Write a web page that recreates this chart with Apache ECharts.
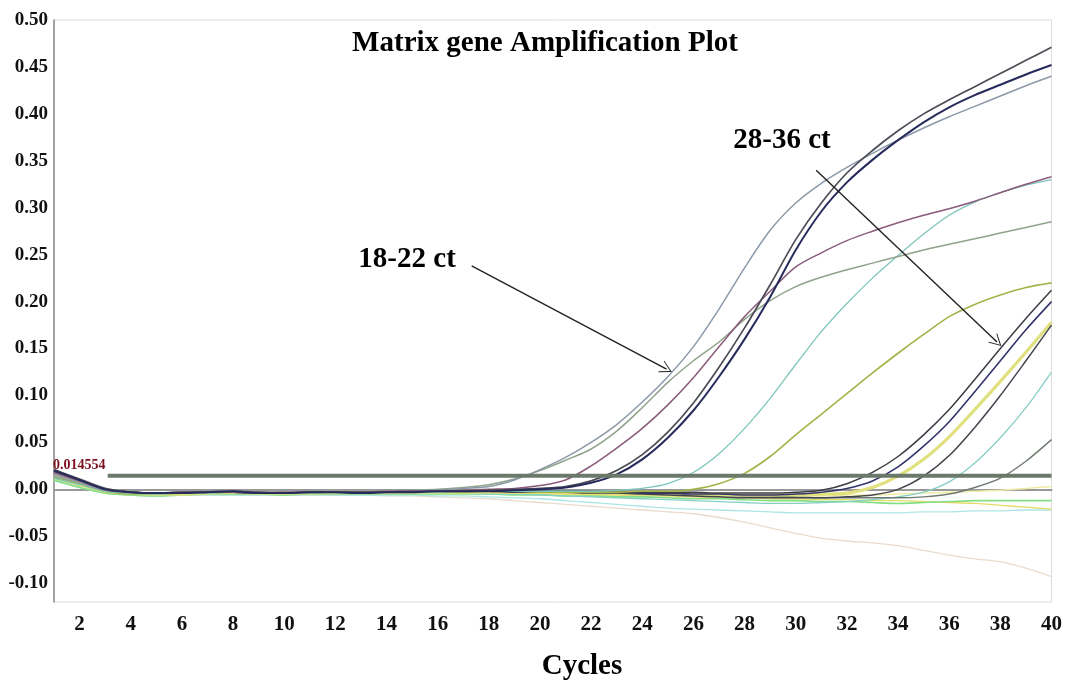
<!DOCTYPE html>
<html>
<head>
<meta charset="utf-8">
<script src="https://cdn.jsdelivr.net/npm/echarts@6/dist/echarts.min.js"></script>
<style>
html,body{margin:0;padding:0;background:#fff;}
#chart{width:1065px;height:683px;}
</style>
</head>
<body>
<div id="chart"></div>
<script>
// ---- DATA ----
const cycles = [1,2,3,4,5,6,7,8,9,10,11,12,13,14,15,16,17,18,19,20,21,22,23,24,25,26,27,28,29,30,31,32,33,34,35,36,37,38,39,40];

const beigeNeg = [0.010,0.002,-0.004,-0.006,-0.007,-0.006,-0.006,-0.006,-0.006,-0.006,-0.006,-0.006,-0.006,-0.007,-0.007,-0.008,-0.009,-0.010,-0.012,-0.014,-0.016,-0.018,-0.020,-0.022,-0.024,-0.026,-0.030,-0.035,-0.041,-0.047,-0.052,-0.055,-0.057,-0.060,-0.065,-0.070,-0.074,-0.077,-0.084,-0.093];
const cyanNeg = [0.009,0.002,-0.004,-0.006,-0.007,-0.006,-0.006,-0.006,-0.006,-0.006,-0.006,-0.006,-0.006,-0.006,-0.006,-0.007,-0.007,-0.008,-0.009,-0.010,-0.012,-0.014,-0.016,-0.018,-0.020,-0.021,-0.022,-0.023,-0.024,-0.025,-0.025,-0.025,-0.025,-0.025,-0.024,-0.024,-0.023,-0.023,-0.022,-0.022];
const lightYellowNeg = [0.011,0.004,-0.002,-0.004,-0.005,-0.005,-0.004,-0.004,-0.004,-0.004,-0.004,-0.004,-0.004,-0.004,-0.004,-0.004,-0.004,-0.004,-0.005,-0.005,-0.005,-0.006,-0.006,-0.006,-0.007,-0.007,-0.007,-0.007,-0.007,-0.007,-0.007,-0.006,-0.006,-0.005,-0.004,-0.003,-0.002,-0.001,0.001,0.003];
const yellowNeg = [0.012,0.004,-0.003,-0.005,-0.006,-0.005,-0.004,-0.004,-0.004,-0.005,-0.004,-0.004,-0.004,-0.004,-0.004,-0.004,-0.004,-0.004,-0.004,-0.005,-0.005,-0.006,-0.006,-0.007,-0.007,-0.008,-0.009,-0.009,-0.010,-0.010,-0.011,-0.011,-0.012,-0.012,-0.013,-0.014,-0.015,-0.017,-0.019,-0.021];
const greenNeg = [0.010,0.002,-0.004,-0.006,-0.007,-0.006,-0.005,-0.005,-0.005,-0.006,-0.005,-0.005,-0.005,-0.005,-0.005,-0.005,-0.005,-0.005,-0.006,-0.006,-0.007,-0.007,-0.008,-0.008,-0.009,-0.010,-0.010,-0.011,-0.012,-0.012,-0.013,-0.013,-0.014,-0.015,-0.014,-0.013,-0.012,-0.012,-0.012,-0.012];

const earlyGrayBlue = [0.016,0.008,-0.001,-0.003,-0.004,-0.003,-0.003,-0.002,-0.003,-0.003,-0.003,-0.002,-0.002,-0.002,-0.001,-0.001,0.001,0.003,0.010,0.021,0.034,0.050,0.069,0.093,0.120,0.152,0.192,0.236,0.276,0.305,0.326,0.343,0.358,0.372,0.385,0.397,0.408,0.419,0.430,0.440];
const earlyGreenGray = [0.014,0.007,-0.001,-0.003,-0.004,-0.004,-0.003,-0.003,-0.003,-0.003,-0.002,-0.002,-0.002,-0.002,-0.001,0.000,0.002,0.005,0.011,0.020,0.031,0.043,0.062,0.087,0.114,0.137,0.157,0.181,0.201,0.216,0.226,0.234,0.241,0.248,0.255,0.261,0.267,0.273,0.279,0.285];
const earlyMauve = [0.018,0.009,0.000,-0.003,-0.004,-0.003,-0.003,-0.003,-0.004,-0.003,-0.003,-0.003,-0.003,-0.002,-0.002,-0.002,-0.001,0.000,0.001,0.004,0.010,0.025,0.044,0.065,0.090,0.119,0.152,0.184,0.211,0.237,0.252,0.265,0.275,0.284,0.292,0.299,0.307,0.316,0.325,0.333];
const earlyNavy = [0.020,0.010,0.000,-0.003,-0.004,-0.004,-0.003,-0.002,-0.004,-0.004,-0.003,-0.003,-0.004,-0.003,-0.003,-0.002,-0.002,-0.002,-0.001,0.000,0.002,0.007,0.016,0.032,0.055,0.084,0.120,0.160,0.205,0.255,0.296,0.327,0.351,0.372,0.391,0.407,0.420,0.431,0.442,0.452];
const earlyDark = [0.021,0.011,0.001,-0.003,-0.004,-0.003,-0.003,-0.002,-0.003,-0.004,-0.003,-0.003,-0.003,-0.003,-0.002,-0.002,-0.002,-0.001,0.000,0.001,0.003,0.009,0.020,0.037,0.061,0.092,0.130,0.172,0.218,0.266,0.305,0.337,0.361,0.382,0.400,0.415,0.429,0.443,0.457,0.471];

const midTeal = [0.012,0.005,-0.002,-0.004,-0.005,-0.004,-0.004,-0.003,-0.004,-0.004,-0.004,-0.003,-0.003,-0.003,-0.003,-0.003,-0.002,-0.002,-0.002,-0.002,-0.002,-0.002,-0.001,0.001,0.006,0.018,0.038,0.065,0.097,0.133,0.168,0.198,0.225,0.249,0.272,0.292,0.306,0.316,0.324,0.330];
const midOlive = [0.013,0.006,-0.002,-0.005,-0.005,-0.004,-0.004,-0.003,-0.003,-0.004,-0.004,-0.003,-0.003,-0.003,-0.003,-0.003,-0.003,-0.002,-0.002,-0.003,-0.003,-0.003,-0.003,-0.002,-0.002,0.000,0.006,0.017,0.035,0.058,0.080,0.102,0.124,0.145,0.165,0.184,0.197,0.207,0.215,0.220];

const lateDark1 = [0.019,0.009,0.000,-0.003,-0.004,-0.004,-0.003,-0.003,-0.004,-0.004,-0.003,-0.003,-0.003,-0.003,-0.003,-0.002,-0.002,-0.002,-0.002,-0.002,-0.002,-0.002,-0.003,-0.003,-0.003,-0.003,-0.004,-0.004,-0.004,-0.003,-0.001,0.006,0.018,0.035,0.058,0.085,0.117,0.150,0.182,0.212];
const lateNavy = [0.020,0.010,0.000,-0.003,-0.004,-0.004,-0.003,-0.003,-0.004,-0.004,-0.003,-0.003,-0.004,-0.003,-0.003,-0.003,-0.002,-0.002,-0.002,-0.002,-0.003,-0.003,-0.003,-0.004,-0.004,-0.005,-0.005,-0.006,-0.006,-0.005,-0.003,0.001,0.009,0.024,0.046,0.072,0.104,0.137,0.170,0.200];
const lateYellow = [0.014,0.006,-0.002,-0.004,-0.005,-0.005,-0.004,-0.003,-0.004,-0.004,-0.004,-0.003,-0.003,-0.003,-0.003,-0.003,-0.003,-0.003,-0.003,-0.003,-0.004,-0.004,-0.004,-0.005,-0.005,-0.005,-0.006,-0.006,-0.006,-0.006,-0.005,-0.004,0.002,0.014,0.032,0.056,0.085,0.115,0.146,0.178];
const lateDark2 = [0.019,0.009,0.000,-0.003,-0.004,-0.004,-0.003,-0.003,-0.004,-0.004,-0.003,-0.003,-0.003,-0.003,-0.003,-0.002,-0.002,-0.002,-0.003,-0.003,-0.003,-0.004,-0.004,-0.005,-0.006,-0.007,-0.008,-0.009,-0.009,-0.009,-0.009,-0.008,-0.006,0.000,0.014,0.036,0.066,0.100,0.137,0.175];
const lateTeal = [0.012,0.005,-0.002,-0.004,-0.005,-0.005,-0.004,-0.004,-0.004,-0.004,-0.004,-0.004,-0.004,-0.004,-0.004,-0.004,-0.004,-0.005,-0.005,-0.006,-0.007,-0.008,-0.009,-0.010,-0.011,-0.012,-0.013,-0.014,-0.015,-0.015,-0.014,-0.013,-0.011,-0.008,-0.003,0.008,0.028,0.055,0.087,0.125];
const lateGray = [0.018,0.009,0.000,-0.003,-0.004,-0.004,-0.003,-0.003,-0.004,-0.004,-0.003,-0.003,-0.003,-0.003,-0.003,-0.003,-0.003,-0.003,-0.003,-0.003,-0.003,-0.004,-0.004,-0.005,-0.005,-0.006,-0.006,-0.007,-0.007,-0.008,-0.009,-0.009,-0.009,-0.009,-0.008,-0.005,0.002,0.012,0.030,0.053];

const thresholdValue = 0.014554;
const thresholdSpan = [3.1, 40];
const thresholdText = '0.014554';

const annotationTexts = ['18-22 ct', '28-36 ct'];
const annotationAnchors = [[12.9, 0.245], [27.56, 0.372]];
const arrowFrom = [[17.33, 0.238], [30.8, 0.340]];
const arrowTo = [[24.95, 0.128], [37.87, 0.157]];

const xTickLabels = ['2','4','6','8','10','12','14','16','18','20','22','24','26','28','30','32','34','36','38','40'];
const yTickLabels = ['-0.10','-0.05','0.00','0.05','0.10','0.15','0.20','0.25','0.30','0.35','0.40','0.45','0.50'];

// ---- STYLES ----
const curveDefs = [
  {data: beigeNeg, color: '#eadccd', width: 1.3},
  {data: cyanNeg, color: '#aee5e5', width: 1.3},
  {data: lightYellowNeg, color: '#efeca6', width: 1.5},
  {data: yellowNeg, color: '#e2dd6a', width: 1.3},
  {data: greenNeg, color: '#84de84', width: 1.6},
  {data: lateTeal, color: '#86cfc6', width: 1.3},
  {data: lateGray, color: '#6f7a6f', width: 1.4},
  {data: lateYellow, color: '#e0e07e', width: 3.2},
  {data: lateDark2, color: '#45454f', width: 1.5},
  {data: lateNavy, color: '#33356c', width: 1.6},
  {data: lateDark1, color: '#3c3c44', width: 1.5},
  {data: midOlive, color: '#a2b447', width: 1.6},
  {data: midTeal, color: '#7dc6bc', width: 1.3},
  {data: earlyGreenGray, color: '#90a38b', width: 1.5},
  {data: earlyGrayBlue, color: '#8c99a8', width: 1.5},
  {data: earlyMauve, color: '#8a5b7b', width: 1.5},
  {data: earlyDark, color: '#4c4c56', width: 1.7},
  {data: earlyNavy, color: '#262b5c', width: 2}
];

const serif = '"Liberation Serif","Times New Roman",serif';

const series = curveDefs.map(d => ({
  type: 'line',
  data: cycles.map((c, i) => [c, d.data[i]]),
  showSymbol: false,
  symbol: 'none',
  smooth: 0.3,
  silent: true,
  lineStyle: {color: d.color, width: d.width},
  z: 2
}));

// threshold line
series.push({
  type: 'line',
  data: thresholdSpan.map(x => [x, thresholdValue]),
  symbol: 'none',
  silent: true,
  lineStyle: {color: '#6b796b', width: 4},
  z: 3
});
// threshold label
series.push({
  type: 'scatter',
  data: [[1, thresholdValue]],
  symbolSize: 0,
  silent: true,
  itemStyle: {opacity: 1},
  label: {
    show: true, position: 'right', distance: 0, offset: [-1, -10],
    formatter: thresholdText, color: '#7a1020',
    fontFamily: serif, fontWeight: 'bold', fontSize: 14
  },
  z: 4
});
// annotation texts + arrows
series.push({
  type: 'scatter',
  data: annotationAnchors.map((p, i) => ({value: p, name: annotationTexts[i]})),
  symbolSize: 0,
  silent: true,
  itemStyle: {opacity: 1},
  label: {
    show: true, position: 'right', distance: 0,
    formatter: p => p.name, color: '#000',
    fontFamily: serif, fontWeight: 'bold', fontSize: 29
  },
  markLine: {
    silent: true,
    symbol: ['none', 'path://M0,0 L-6,14 L-5,14 L0,2.4 L5,14 L6,14 Z'],
    symbolSize: [13, 12],
    label: {show: false},
    lineStyle: {color: '#222', width: 1.4, type: 'solid', opacity: 1},
    data: arrowFrom.map((f, i) => [{coord: f}, {coord: arrowTo[i]}])
  },
  z: 5
});

const chart = echarts.init(document.getElementById('chart'), null, {renderer: 'canvas'});
chart.setOption({
  animation: false,
  backgroundColor: '#fff',
  grid: {left: 54, right: 9, top: 20, bottom: 81, show: true, borderColor: '#dcdcdc', borderWidth: 1},
  xAxis: {
    type: 'value', min: 1, max: 40, interval: 1,
    axisLine: {show: true, lineStyle: {color: '#999', width: 2}},
    axisTick: {show: false},
    splitLine: {show: false},
    axisLabel: {
      margin: 12, color: '#111', fontFamily: serif, fontWeight: 'bold', fontSize: 21,
      formatter: v => { const s = String(Math.round(v)); return xTickLabels.indexOf(s) >= 0 ? s : ''; }
    }
  },
  yAxis: {
    type: 'value', min: -0.12, max: 0.5, interval: 0.01,
    axisLine: {show: true, lineStyle: {color: '#8a8a8a', width: 1.5}},
    axisTick: {show: false},
    splitLine: {show: false},
    axisLabel: {
      margin: 6, color: '#111', fontFamily: serif, fontWeight: 'bold', fontSize: 19,
      formatter: v => { const s = (Math.round(v * 100) / 100).toFixed(2); return yTickLabels.indexOf(s) >= 0 ? s : ''; }
    }
  },
  graphic: [
    {type: 'text', x: 545, y: 29, style: {text: 'Matrix gene Amplification Plot', font: 'bold 29px ' + serif, fill: '#000', align: 'center', verticalAlign: 'top'}},
    {type: 'text', x: 582, y: 652, style: {text: 'Cycles', font: 'bold 29px ' + serif, fill: '#000', align: 'center', verticalAlign: 'top'}}
  ],
  series: series
});
</script>
</body>
</html>
